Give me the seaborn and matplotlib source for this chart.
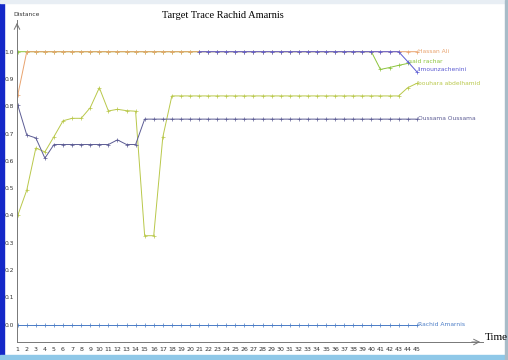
import numpy as np
import pandas as pd
import matplotlib
matplotlib.use("Agg")
import matplotlib.pyplot as plt
import seaborn as sns
from matplotlib.patches import Rectangle

time = list(range(1, 46))
nan = np.nan

hassan_ali = [0.84] + [1.0] * 44
limounzachenini = [nan] * 20 + [1.0] * 23 + [0.964, 0.927]
said_rachar = [1.0] * 40 + [0.935, 0.942, 0.950, 0.957, nan]
bouhara = [0.40, 0.493, 0.647, 0.633, 0.689, 0.747, 0.756, 0.756, 0.795, 0.868,
           0.783, 0.789, 0.784, 0.782, 0.326, 0.326, 0.687] + [0.838] * 26 + [0.868, 0.884]
oussama = [0.805, 0.695, 0.684, 0.61, 0.66, 0.66, 0.66, 0.66, 0.66, 0.66, 0.66,
           0.677, 0.66, 0.66] + [0.753] * 31
rachid = [0.0] * 45

names = ["said rachar", "Hassan Ali", "limounzachenini", "bouhara abdelhamid",
         "Oussama Oussama", "Rachid Amarnis"]
values = [said_rachar, hassan_ali, limounzachenini, bouhara, oussama, rachid]
colors = ["#8cc43c", "#e9a36e", "#5a5ad2", "#b9c84a", "#5c5c94", "#4a7cc6"]
label_y = [0.963, 1.0, 0.933, 0.885, 0.757, 0.0]
label_x = [44.2, 45.1, 45.1, 45.1, 45.1, 45.1]

yticks = [0.0, 0.1, 0.2, 0.3, 0.4, 0.5, 0.6, 0.7, 0.8, 0.9, 1.0]
ytick_labels = ["0.0", "0.1", "0.2", "0.3", "0.4", "0.5", "0.6", "0.7", "0.8", "0.9", "1.0"]

sns.set_style("white")
plt.rcParams['font.family'] = ['DejaVu Sans']

fig = plt.figure(figsize=(5.08, 3.6), dpi=100)
ax = fig.add_axes([17 / 508, 1 - 342 / 360, (483 - 17) / 508, (342 - 20) / 360])

for name, vals, c in zip(names, values, colors):
    df = pd.DataFrame({"Time": time, "Distance": vals}).dropna()
    sns.lineplot(data=df, x="Time", y="Distance", color=c, marker="+",
                 markersize=2.5, linewidth=0.7, markeredgewidth=0.5,
                 markeredgecolor=c, markerfacecolor=c, ax=ax)

for name, c, lx, ly in zip(names, colors, label_x, label_y):
    ax.text(lx, ly, name, color=c, fontsize=4.3, va="center", ha="left")

x0 = 1 - (17.7 - 17) / 9.07
x1 = 45 + (483 - 416.7) / 9.07
ax.set_xlim(x0, x1)
ax.set_ylim(-(342 - 324.7) / 273, (324.7 - 20) / 273)

ax.set_xticks(time)
ax.set_xticklabels([str(t) for t in time], fontsize=4.5, color="#333333")
ax.set_yticks(yticks)
ax.set_yticklabels(ytick_labels, fontsize=4.3, color="#333333")
ax.tick_params(axis="both", direction="in", length=2.5, width=0.5, colors="#555555",
               pad=2, labelcolor="#333333")
ax.tick_params(axis="x", direction="inout", length=3)

for s in ["top", "right"]:
    ax.spines[s].set_visible(False)
for s in ["left", "bottom"]:
    ax.spines[s].set_color("#777777")
    ax.spines[s].set_linewidth(0.7)

ax.set_xlabel("")
ax.set_ylabel("")

ax.annotate("", xy=(1.0, 0), xytext=(0.97, 0), xycoords="axes fraction",
            arrowprops=dict(arrowstyle="->", color="#777777", lw=0.7))
ax.annotate("", xy=(0, 1.0), xytext=(0, 0.97), xycoords="axes fraction",
            arrowprops=dict(arrowstyle="->", color="#777777", lw=0.7))

fig.text(223 / 508, 1 - 15 / 360, "Target Trace Rachid Amarnis", fontsize=7.5,
         family="Liberation Serif", ha="center", va="center", color="black")
fig.text(13 / 508, 1 - 14 / 360, "Distance", fontsize=4.3, ha="left", va="center",
         color="#333333")
fig.text(485 / 508, 1 - 338 / 360, "Time", fontsize=8, family="Liberation Serif",
         ha="left", va="center", color="black")

# window-like frame
fig.patches.append(Rectangle((0, 0), 4 / 508, 1, transform=fig.transFigure,
                             color="#1428c8", zorder=0))
fig.patches.append(Rectangle((0, 0), 1, 5 / 360, transform=fig.transFigure,
                             color="#8fc8e8", zorder=0))
fig.patches.append(Rectangle((0, 1 - 3 / 360), 1, 3 / 360, transform=fig.transFigure,
                             color="#e8eef4", zorder=0))
fig.patches.append(Rectangle((505 / 508, 0), 1.5 / 508, 1, transform=fig.transFigure,
                             color="#a8bcc8", zorder=0))

fig.savefig("out.png", dpi=100)
